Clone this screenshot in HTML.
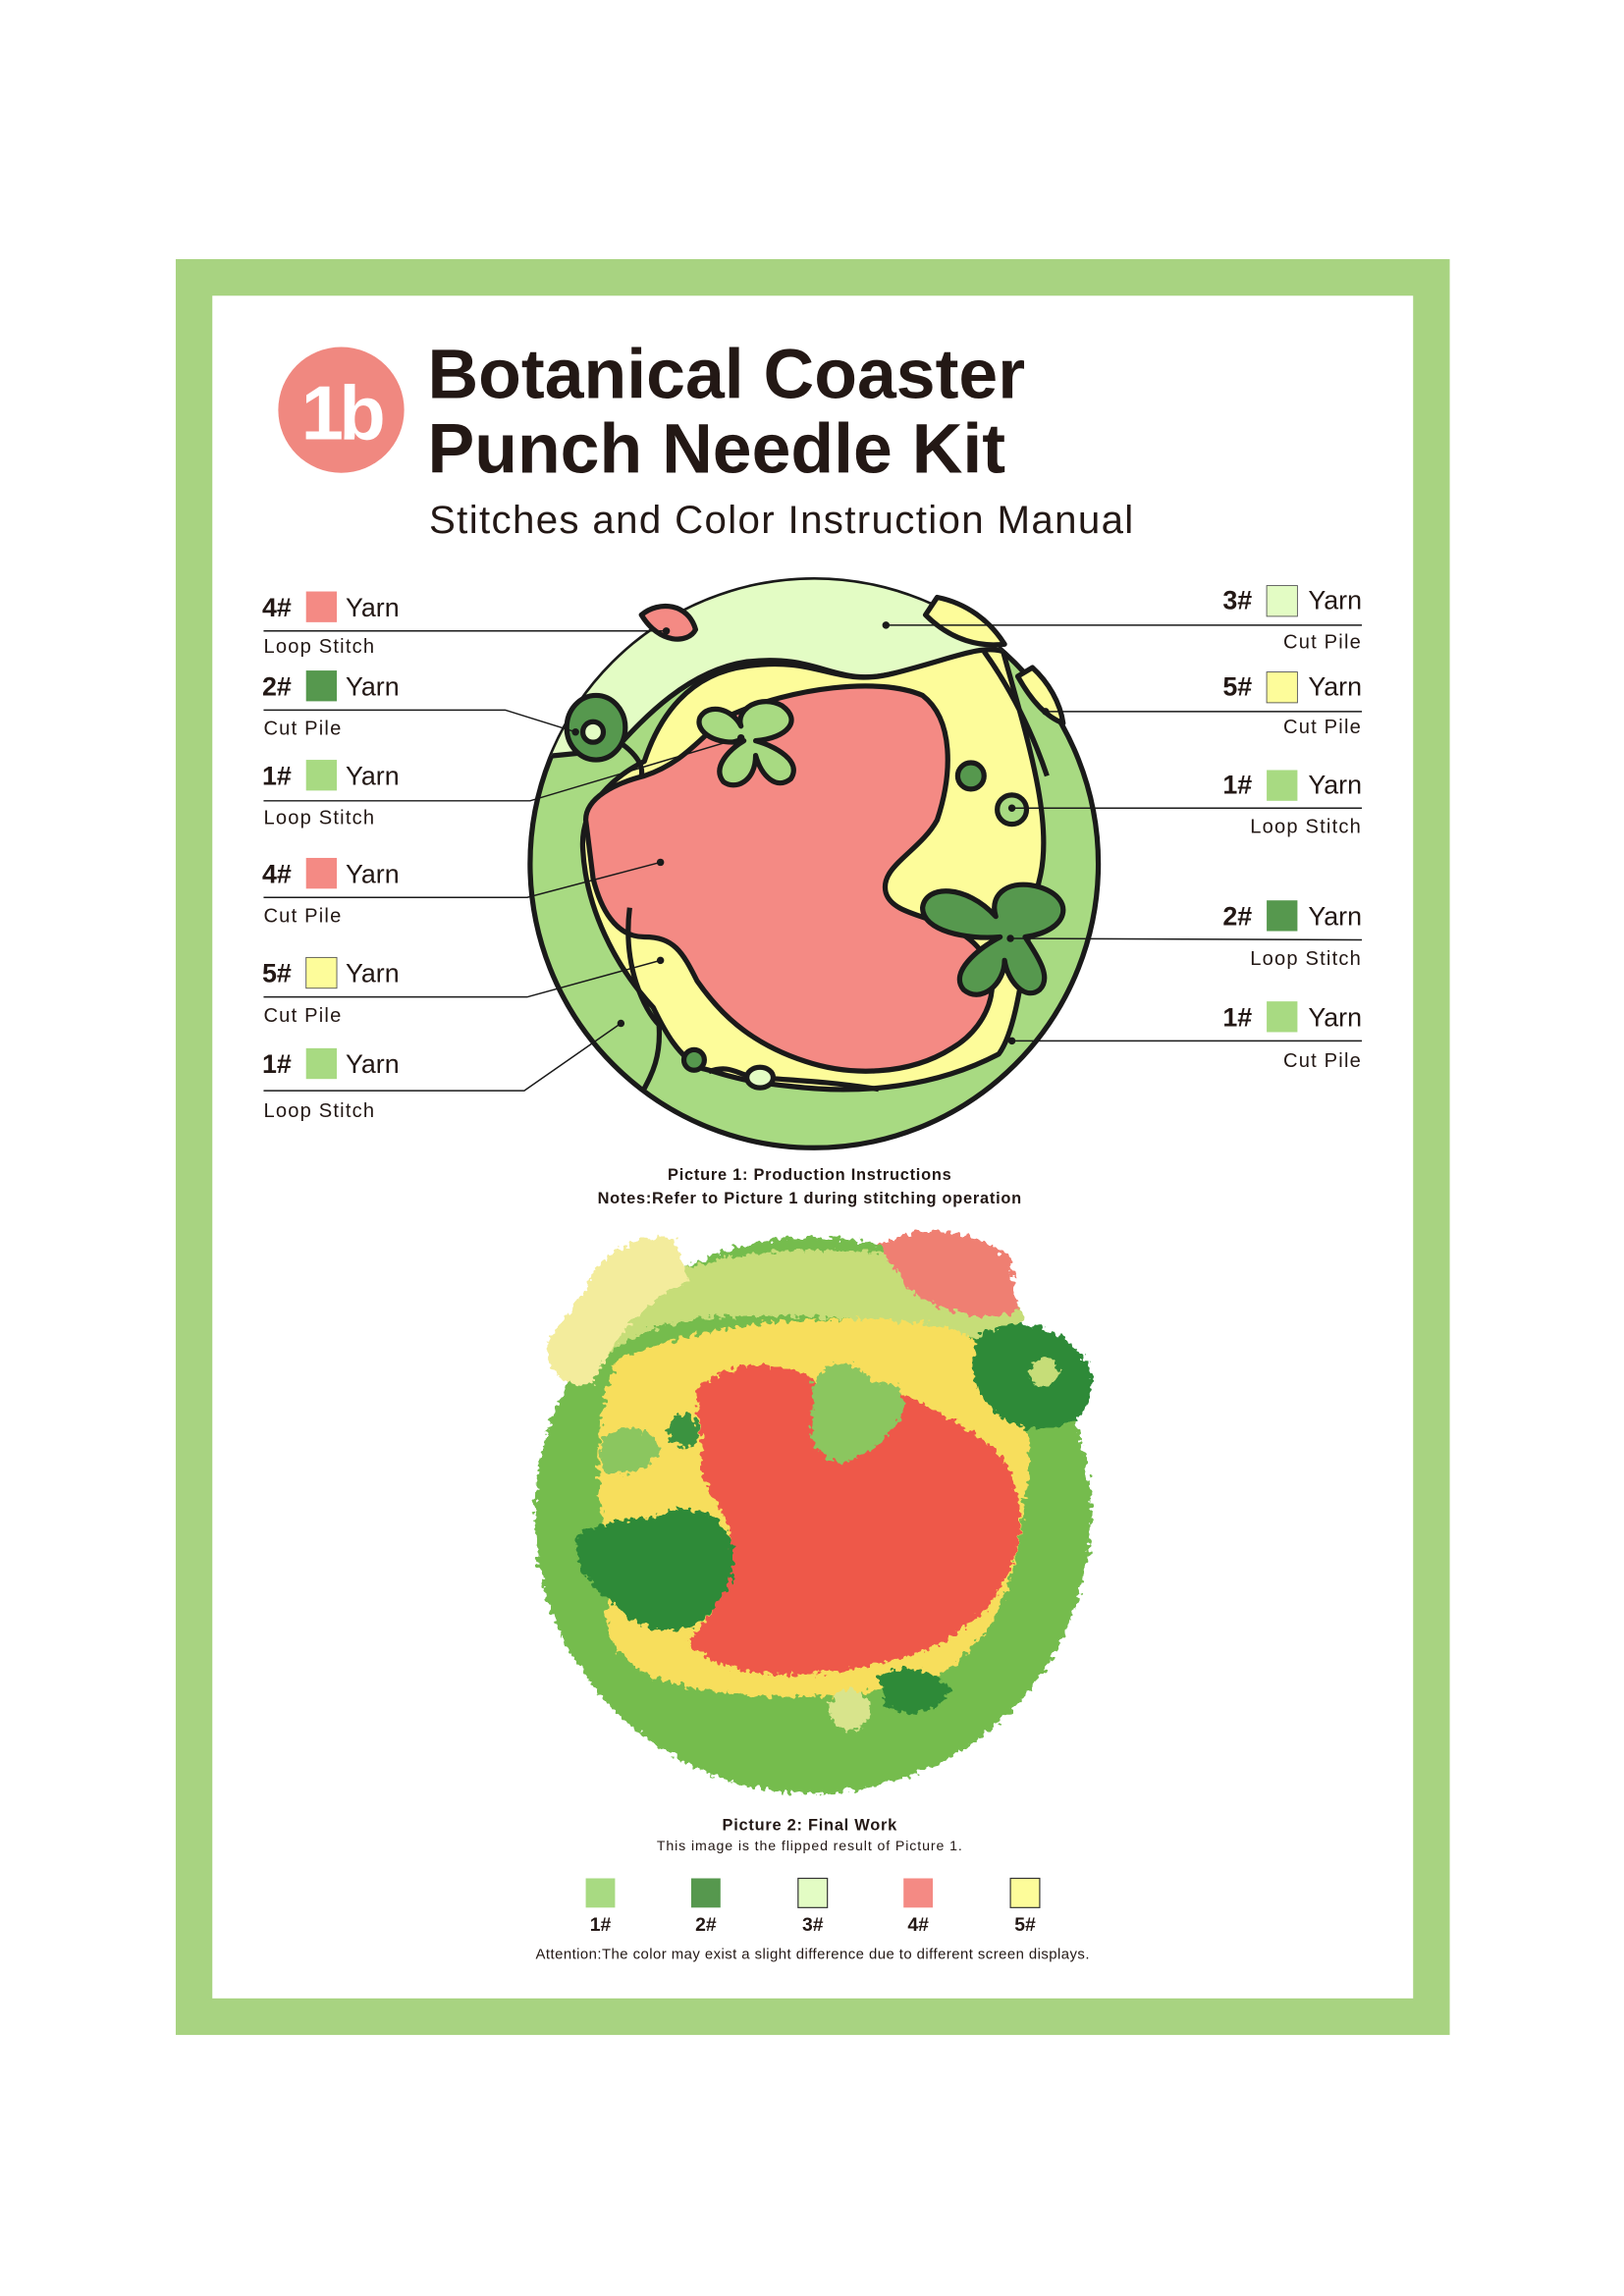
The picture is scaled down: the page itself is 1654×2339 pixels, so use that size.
<!DOCTYPE html>
<html><head><meta charset="utf-8"><style>html,body{margin:0;padding:0;background:#fff}svg{display:block}</style></head>
<body>
<svg width="1654" height="2339" viewBox="0 0 1109 1568.3" xmlns="http://www.w3.org/2000/svg" font-family="Liberation Sans, sans-serif">
<defs>
<clipPath id="cc"><circle cx="556" cy="590" r="194"/></clipPath>
<filter id="fz" x="-10%" y="-10%" width="120%" height="120%">
<feTurbulence type="fractalNoise" baseFrequency="0.25" numOctaves="2" seed="3"/>
<feDisplacementMap in="SourceGraphic" scale="9" xChannelSelector="R" yChannelSelector="G"/>
</filter>
</defs>
<rect x="0" y="0" width="1109" height="1570" fill="#fff"/>
<rect x="120" y="177" width="870" height="1213" fill="#a8d381"/>
<rect x="145" y="202" width="820" height="1163" fill="#fff"/>

<circle cx="233" cy="280" r="43" fill="#f08880"/>
<text x="233" y="300" text-anchor="middle" font-size="52" font-weight="bold" fill="#fff" letter-spacing="-3">1b</text>
<text x="292" y="272" font-size="48" font-weight="bold" fill="#231815">Botanical Coaster</text>
<text x="292" y="323" font-size="48" font-weight="bold" fill="#231815">Punch Needle Kit</text>
<text x="293" y="364" font-size="27" fill="#231815" letter-spacing="0.9">Stitches and Color Instruction Manual</text>

<g stroke="#1a1a1a" stroke-width="3.5" stroke-linejoin="round">
<circle cx="556" cy="590" r="194" fill="#a8da82"/>
<g clip-path="url(#cc)">
<path d="M340,390 L780,390 L780,470 L685,445 C670,440 650,452 610,460 C570,470 560,446 510,452 C470,458 440,490 420,512 L340,520 Z" fill="#e3fcc4"/>
<path d="M440,520 C450,490 470,460 510,455 C560,448 570,470 610,460 C650,450 670,440 685,445 C700,500 720,560 710,600 C700,640 697,700 682,720 C640,742 590,748 540,742 C500,738 490,732 480,730 C462,722 452,700 446,688 C420,660 400,620 398,580 C396,550 420,530 440,520 Z" fill="#fdfc9a"/>
<path d="M400,560 C400,545 420,535 440,530 C470,520 480,500 500,488 C540,470 600,462 630,475 C652,492 650,530 640,560 C628,582 600,592 605,610 C610,626 640,625 660,640 C690,662 678,700 650,716 C620,735 580,735 550,725 C510,712 490,690 476,670 C466,650 460,640 440,640 C420,640 410,620 405,600 Z" fill="#f48a84"/>
<path d="M430,620 C425,660 440,690 450,700 C452,730 440,740 432,760" fill="none"/>
<path d="M412,500 C430,510 440,520 438,530" fill="none"/>
<path d="M672,445 C690,470 705,500 715,530" fill="none"/>
<path d="M484,732 C500,726 505,736 519,736 C540,738 560,738 600,744" fill="none"/>
</g>
<path d="M438,420 C450,410 470,412 475,430 C470,440 450,440 438,420 Z" fill="#f48a84"/>
<path d="M632,420 C650,438 670,442 686,440 C676,424 660,412 640,408 Z" fill="#fdfc9a"/>
<path d="M695,462 C705,480 715,490 726,494 C724,480 716,466 705,456 Z" fill="#fdfc9a"/>
<ellipse cx="407" cy="497" rx="20" ry="22" fill="#56984e"/>
<circle cx="405" cy="500" r="7" fill="#e3fcc4"/>
<circle cx="663" cy="530" r="9" fill="#56984e"/>
<circle cx="691" cy="553" r="10" fill="#a8da82"/>
<circle cx="474" cy="724" r="7" fill="#56984e"/>
<ellipse cx="519" cy="736" rx="9" ry="7" fill="#e3fcc4"/>
<path fill="#a8da82" d="M508,506 C490,510 474,500 478,490 C484,480 500,484 506,496 C502,484 520,474 534,482 C548,492 538,504 516,506 C530,510 548,520 540,532 C530,540 520,530 516,516 C516,534 502,540 494,534 C486,524 498,512 508,506 Z"/>
<path fill="#56984e" d="M683,640 C660,642 630,636 630,620 C632,604 660,604 680,626 C675,610 690,600 710,606 C735,614 730,636 700,640 C710,655 718,668 710,676 C700,684 688,670 686,656 C686,672 670,686 658,676 C648,664 668,648 683,640 Z"/>
</g>
<g fill="#1a1a1a">
<circle cx="455" cy="431" r="2.5"/><circle cx="605" cy="427" r="2.5"/><circle cx="714" cy="486" r="2.5"/>
<circle cx="393" cy="500" r="2.5"/><circle cx="506" cy="504" r="2.5"/><circle cx="691" cy="552" r="2.5"/>
<circle cx="451" cy="589" r="2.5"/><circle cx="690" cy="641" r="2.5"/><circle cx="451" cy="656" r="2.5"/>
<circle cx="424" cy="699" r="2.5"/><circle cx="691" cy="711" r="2.5"/>
</g>
<g stroke="#1a1a1a" stroke-width="1" fill="none">
<polyline points="180,431 455,431"/>
<polyline points="180,485 345,485 393,500"/>
<polyline points="180,547 362,547 506,504"/>
<polyline points="180,613 360,613 451,589"/>
<polyline points="180,681 360,681 451,656"/>
<polyline points="180,745 358,745 424,699"/>
<polyline points="930,427 605,427"/>
<polyline points="930,486 714,486"/>
<polyline points="930,552 691,552"/>
<polyline points="930,642 690,641"/>
<polyline points="930,711 691,711"/>
</g>
<g font-size="18" fill="#231815">
<g font-weight="bold"><text x="179" y="421">4#</text><text x="179" y="475">2#</text><text x="179" y="536">1#</text><text x="179" y="603">4#</text><text x="179" y="671">5#</text><text x="179" y="733">1#</text></g>
<text x="236" y="421">Yarn</text><text x="236" y="475">Yarn</text><text x="236" y="536">Yarn</text><text x="236" y="603">Yarn</text><text x="236" y="671">Yarn</text><text x="236" y="733">Yarn</text>
<g font-weight="bold"><text x="835" y="416">3#</text><text x="835" y="475">5#</text><text x="835" y="542">1#</text><text x="835" y="632">2#</text><text x="835" y="701">1#</text></g>
<g text-anchor="end"><text x="930" y="416">Yarn</text><text x="930" y="475">Yarn</text><text x="930" y="542">Yarn</text><text x="930" y="632">Yarn</text><text x="930" y="701">Yarn</text></g>
</g>
<g stroke="#555" stroke-width="0.6">
<rect x="209" y="404" width="21" height="21" fill="#f48a84" stroke="none"/>
<rect x="209" y="458" width="21" height="21" fill="#56984e" stroke="none"/>
<rect x="209" y="519" width="21" height="21" fill="#a8da82" stroke="none"/>
<rect x="209" y="586" width="21" height="21" fill="#f48a84" stroke="none"/>
<rect x="209" y="654" width="21" height="21" fill="#fdfc9a"/>
<rect x="209" y="716" width="21" height="21" fill="#a8da82" stroke="none"/>
<rect x="865" y="400" width="21" height="21" fill="#e3fcc4"/>
<rect x="865" y="459" width="21" height="21" fill="#fdfc9a"/>
<rect x="865" y="526" width="21" height="21" fill="#a8da82" stroke="none"/>
<rect x="865" y="615" width="21" height="21" fill="#56984e" stroke="none"/>
<rect x="865" y="684" width="21" height="21" fill="#a8da82" stroke="none"/>
</g>
<g font-size="13.5" fill="#231815" letter-spacing="0.8">
<text x="180" y="446">Loop Stitch</text><text x="180" y="502">Cut Pile</text><text x="180" y="563">Loop Stitch</text><text x="180" y="630">Cut Pile</text><text x="180" y="698">Cut Pile</text><text x="180" y="763">Loop Stitch</text>
<g text-anchor="end"><text x="930" y="443">Cut Pile</text><text x="930" y="501">Cut Pile</text><text x="930" y="569">Loop Stitch</text><text x="930" y="659">Loop Stitch</text><text x="930" y="729">Cut Pile</text></g>
</g>
<g font-size="11" font-weight="bold" fill="#231815" text-anchor="middle" letter-spacing="0.5">
<text x="553" y="806">Picture 1: Production Instructions</text>
<text x="553" y="822">Notes:Refer to Picture 1 during stitching operation</text>
</g>

<g filter="url(#fz)">
<circle cx="555" cy="1035" r="190" fill="#74bc4e"/>
<path d="M410,900 C450,860 520,850 600,855 C650,860 690,880 700,900 L690,920 C640,905 560,895 480,900 C440,905 420,920 410,930 Z" fill="#c6dd78"/>
<path d="M400,880 C410,855 430,845 460,845 L470,875 C440,890 420,910 405,945 C385,950 370,935 375,915 Z" fill="#f3ec9c"/>
<path d="M600,850 C630,835 670,840 690,860 L695,895 C670,905 640,895 620,880 Z" fill="#ef7f72"/>
<path d="M420,930 C470,905 560,895 640,905 C690,915 710,960 700,1020 C695,1080 680,1120 640,1145 C600,1160 520,1165 460,1150 C420,1140 405,1110 420,1080 C410,1040 400,990 420,930 Z" fill="#f7de5c"/>
<path d="M475,950 C500,925 540,930 560,945 C600,940 640,960 680,990 C705,1020 700,1060 680,1090 C660,1120 620,1135 580,1140 C530,1150 480,1140 470,1120 C490,1100 500,1080 500,1060 C500,1030 470,1010 480,990 Z" fill="#ee5848"/>
<path d="M555,945 C565,925 590,930 595,945 C615,940 625,960 610,975 C600,990 585,995 575,1000 C560,995 550,985 555,970 Z" fill="#8bc65e"/>
<path d="M410,985 C420,970 445,972 450,990 C445,1005 425,1010 412,1005 Z" fill="#8bc65e"/>
<circle cx="467" cy="977" r="11" fill="#3a9340"/>
<path d="M395,1050 C410,1035 440,1040 450,1035 C470,1025 495,1035 500,1055 C505,1080 490,1100 475,1110 C455,1120 430,1110 420,1095 C405,1085 390,1070 395,1050 Z" fill="#2e8a38"/>
<path d="M665,915 C690,895 730,905 745,935 C750,960 735,975 715,975 C690,980 670,960 665,940 Z" fill="#2e8a38"/>
<circle cx="713" cy="937" r="10" fill="#c6dd78"/>
<path d="M600,1145 C615,1135 640,1140 650,1155 C640,1170 620,1175 605,1165 Z" fill="#2e8a38"/>
<circle cx="580" cy="1168" r="14" fill="#d8e48c"/>
</g>

<g font-size="11" fill="#231815" text-anchor="middle">
<text x="553" y="1250" font-weight="bold" letter-spacing="0.5">Picture 2: Final Work</text>
<text x="553" y="1264" font-size="9.5" letter-spacing="0.6">This image is the flipped result of Picture 1.</text>
</g>
<rect x="400" y="1283" width="20" height="20" fill="#a8da82"/>
<rect x="472" y="1283" width="20" height="20" fill="#56984e"/>
<rect x="545" y="1283" width="20" height="20" fill="#e3fcc4" stroke="#333" stroke-width="0.8"/>
<rect x="617" y="1283" width="20" height="20" fill="#f48a84"/>
<rect x="690" y="1283" width="20" height="20" fill="#fdfc9a" stroke="#333" stroke-width="0.8"/>
<g font-size="13" font-weight="bold" fill="#231815" text-anchor="middle">
<text x="410" y="1319">1#</text><text x="482" y="1319">2#</text><text x="555" y="1319">3#</text><text x="627" y="1319">4#</text><text x="700" y="1319">5#</text>
</g>
<text x="555" y="1338" font-size="10" fill="#231815" text-anchor="middle" letter-spacing="0.3">Attention:The color may exist a slight difference due to different screen displays.</text>
</svg>
</body></html>
